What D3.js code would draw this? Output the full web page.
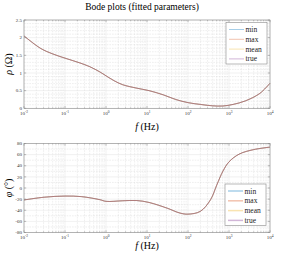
<!DOCTYPE html>
<html>
<head>
<meta charset="utf-8">
<script src="https://cdn.jsdelivr.net/npm/d3@7"></script>
<style>
  body { margin: 0; background: #fff; }
  svg { display: block; font-family: "Liberation Serif", "DejaVu Serif", serif; }
  .tick-label { font-size: 5px; fill: #333; }
</style>
</head>
<body>
<div id="chart"></div>
<script>
const rhoLogF = [-2, -1.6, -1.3, -1, -0.65, -0.4, -0.15, 0, 0.2, 0.4, 0.75, 1.05, 1.4, 1.7, 2.0, 2.3, 2.6, 2.85, 3.1, 3.4, 3.75, 4];
const rhoVals = [2.05, 1.70, 1.54, 1.42, 1.29, 1.18, 1.03, 0.92, 0.78, 0.67, 0.57, 0.50, 0.38, 0.25, 0.16, 0.11, 0.07, 0.065, 0.11, 0.21, 0.42, 0.71];

const phiLogF = [-2, -1.5, -1, -0.6, -0.15, 0, 0.4, 0.75, 1.05, 1.5, 1.8, 2.0, 2.3, 2.55, 2.7, 2.85, 3.0, 3.25, 3.6, 4];
const phiVals = [-21.5, -16.5, -14.5, -15.5, -21, -24, -23, -22.5, -26, -36.5, -45, -47, -42, -21, 5, 30, 47, 61, 69, 73.5];

const seriesNames = ['min', 'max', 'mean', 'true'];
const seriesColors = ['#0072BD', '#D95319', '#EDB120', '#7E2F8E'];

const xDecades = [-2, -1, 0, 1, 2, 3, 4];
const rhoTicks = [0, 0.5, 1, 1.5, 2, 2.5];
const phiTicks = [-80, -60, -40, -20, 0, 20, 40, 60, 80];

const width = 284;
const height = 257;

const svg = d3.select('#chart')
  .append('svg')
  .attr('width', width)
  .attr('height', height);

svg.append('text')
  .attr('x', 142)
  .attr('y', 10)
  .attr('text-anchor', 'middle')
  .style('font-size', '9.5px')
  .text('Bode plots (fitted parameters)');

function drawPanel(opts) {
  const { top, bottom, yDomain, yTicks, yMinorStep, logF, vals, yLabel, xLabelY, legendBox } = opts;
  const left = 24, right = 270;

  const x = d3.scaleLog().domain([1e-2, 1e4]).range([left, right]);
  const y = d3.scaleLinear().domain(yDomain).range([bottom, top]);

  const g = svg.append('g');

  // minor x positions
  const minors = [];
  xDecades.slice(0, -1).forEach((d) => {
    for (let k = 2; k <= 9; k++) minors.push(k * Math.pow(10, d));
  });
  const yMinors = d3.range(yDomain[0], yDomain[1] + 1e-9, yMinorStep)
    .filter((v) => !yTicks.some((t) => Math.abs(t - v) < 1e-9));

  // minor grid
  g.selectAll('.mgx').data(minors).join('line')
    .attr('x1', (d) => x(d)).attr('x2', (d) => x(d))
    .attr('y1', top).attr('y2', bottom)
    .attr('stroke', '#c8c8c8').attr('stroke-width', 0.5)
    .attr('stroke-dasharray', '0.6,1');
  g.selectAll('.mgy').data(yMinors).join('line')
    .attr('x1', left).attr('x2', right)
    .attr('y1', (d) => y(d)).attr('y2', (d) => y(d))
    .attr('stroke', '#c8c8c8').attr('stroke-width', 0.5)
    .attr('stroke-dasharray', '0.6,1');

  // major grid
  g.selectAll('.gx').data(xDecades).join('line')
    .attr('x1', (d) => x(Math.pow(10, d))).attr('x2', (d) => x(Math.pow(10, d)))
    .attr('y1', top).attr('y2', bottom)
    .attr('stroke', '#e3e3e3').attr('stroke-width', 0.5);
  g.selectAll('.gy').data(yTicks).join('line')
    .attr('x1', left).attr('x2', right)
    .attr('y1', (d) => y(d)).attr('y2', (d) => y(d))
    .attr('stroke', '#e3e3e3').attr('stroke-width', 0.5);

  // data lines
  const pts = logF.map((lf, i) => [Math.pow(10, lf), vals[i]]);
  const line = d3.line()
    .x((d) => x(d[0]))
    .y((d) => y(d[1]))
    .curve(d3.curveCatmullRom.alpha(0.5));
  seriesNames.forEach((name, i) => {
    g.append('path')
      .datum(pts)
      .attr('d', line)
      .attr('fill', 'none')
      .attr('stroke', seriesColors[i])
      .attr('stroke-opacity', 0.35)
      .attr('stroke-width', 1);
  });

  // ticks (inside, all sides)
  const tickColor = '#7a7a7a';
  xDecades.forEach((d) => {
    const px = x(Math.pow(10, d));
    g.append('line').attr('x1', px).attr('x2', px).attr('y1', bottom).attr('y2', bottom - 2.2).attr('stroke', tickColor).attr('stroke-width', 0.5);
    g.append('line').attr('x1', px).attr('x2', px).attr('y1', top).attr('y2', top + 2.2).attr('stroke', tickColor).attr('stroke-width', 0.5);
  });
  minors.forEach((d) => {
    const px = x(d);
    g.append('line').attr('x1', px).attr('x2', px).attr('y1', bottom).attr('y2', bottom - 1.2).attr('stroke', tickColor).attr('stroke-width', 0.4);
    g.append('line').attr('x1', px).attr('x2', px).attr('y1', top).attr('y2', top + 1.2).attr('stroke', tickColor).attr('stroke-width', 0.4);
  });
  yTicks.forEach((t) => {
    const py = y(t);
    g.append('line').attr('x1', left).attr('x2', left + 2.2).attr('y1', py).attr('y2', py).attr('stroke', tickColor).attr('stroke-width', 0.5);
    g.append('line').attr('x1', right).attr('x2', right - 2.2).attr('y1', py).attr('y2', py).attr('stroke', tickColor).attr('stroke-width', 0.5);
    g.append('text')
      .attr('class', 'tick-label')
      .attr('x', left - 2)
      .attr('y', py + 1.7)
      .attr('text-anchor', 'end')
      .text(t);
  });

  // box
  g.append('rect')
    .attr('x', left).attr('y', top)
    .attr('width', right - left).attr('height', bottom - top)
    .attr('fill', 'none').attr('stroke', '#8a8a8a').attr('stroke-width', 0.6);

  // x tick labels
  xDecades.forEach((d) => {
    const t = g.append('text')
      .attr('class', 'tick-label')
      .attr('x', x(Math.pow(10, d)))
      .attr('y', bottom + 6.5)
      .attr('text-anchor', 'middle');
    t.append('tspan').text('10');
    t.append('tspan').attr('dy', -2).style('font-size', '3.5px').text(d);
  });

  // x label
  const xl = svg.append('text')
    .attr('x', 147)
    .attr('y', xLabelY)
    .attr('text-anchor', 'middle')
    .style('font-size', '10px');
  xl.append('tspan').style('font-style', 'italic').text('f');
  xl.append('tspan').text(' (Hz)');

  // y label
  const yl = svg.append('text')
    .attr('transform', `translate(12,${(top + bottom) / 2}) rotate(-90)`)
    .attr('text-anchor', 'middle')
    .style('font-size', '10px');
  yl.append('tspan').style('font-style', 'italic').text(yLabel[0]);
  yl.append('tspan').text(yLabel[1]);

  // legend
  const lg = svg.append('g');
  lg.append('rect')
    .attr('x', legendBox.x).attr('y', legendBox.y)
    .attr('width', legendBox.w).attr('height', legendBox.h)
    .attr('fill', '#fff').attr('stroke', '#8a8a8a').attr('stroke-width', 0.6);
  seriesNames.forEach((name, i) => {
    const ly = legendBox.y + 7 + i * 9.8;
    lg.append('line')
      .attr('x1', legendBox.x + 3).attr('x2', legendBox.x + 18)
      .attr('y1', ly).attr('y2', ly)
      .attr('stroke', seriesColors[i]).attr('stroke-opacity', 0.35)
      .attr('stroke-width', legendBox.lw);
    lg.append('text')
      .attr('x', legendBox.x + 19.5)
      .attr('y', ly + 2.5)
      .style('font-size', '7.5px')
      .attr('fill', '#222')
      .text(name);
  });
}

drawPanel({
  top: 20, bottom: 108.3,
  yDomain: [0, 2.5], yTicks: rhoTicks, yMinorStep: 0.1,
  logF: rhoLogF, vals: rhoVals,
  yLabel: ['ρ', ' (Ω)'], xLabelY: 129.5,
  legendBox: { x: 226, y: 22.5, w: 41, h: 41.5, lw: 1 }
});

drawPanel({
  top: 143.5, bottom: 232.5,
  yDomain: [-80, 80], yTicks: phiTicks, yMinorStep: 10,
  logF: phiLogF, vals: phiVals,
  yLabel: ['φ', ' (°)'], xLabelY: 249,
  legendBox: { x: 225, y: 184, w: 41, h: 41.5, lw: 1.5 }
});
</script>
</body>
</html>
